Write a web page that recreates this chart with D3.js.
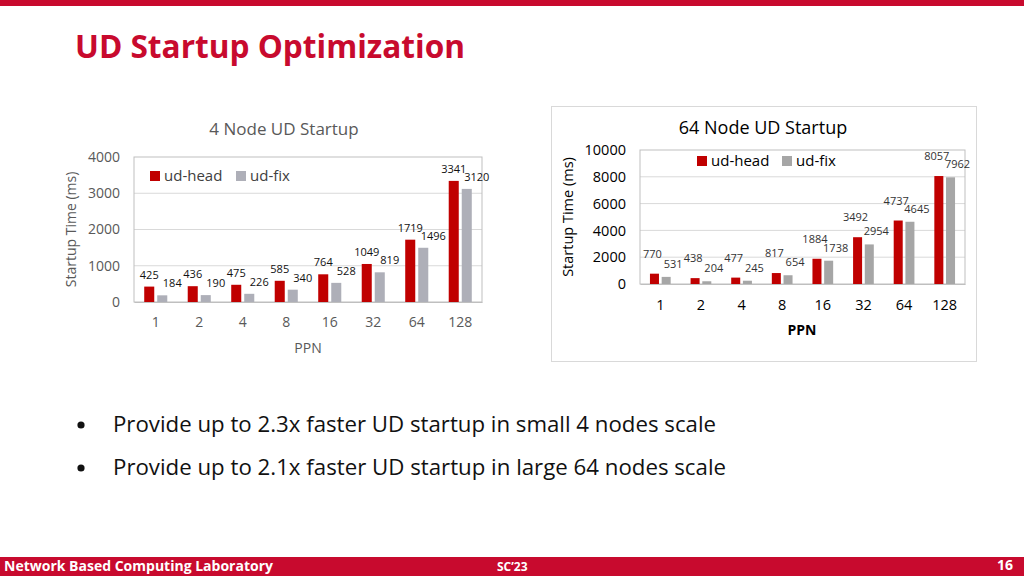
<!DOCTYPE html>
<html>
<head>
<meta charset="utf-8">
<script src="https://cdn.jsdelivr.net/npm/d3@7/dist/d3.min.js"></script>
<style>
  html, body { margin: 0; padding: 0; background: #fff; }
  svg { display: block; }
  text { font-family: "Open Sans", Lato, "DejaVu Sans", sans-serif; }
</style>
</head>
<body>
<svg id="slide" width="1024" height="576"></svg>
<script>
// ---------- data ----------
const ppn = ["1", "2", "4", "8", "16", "32", "64", "128"];
const seriesNames = ["ud-head", "ud-fix"];
const node4Head = [425, 436, 475, 585, 764, 1049, 1719, 3341];
const node4Fix  = [184, 190, 226, 340, 528, 819, 1496, 3120];
const node64Head = [770, 438, 477, 817, 1884, 3492, 4737, 8057];
const node64Fix  = [531, 204, 245, 654, 1738, 2954, 4645, 7962];
const node4Ticks = [0, 1000, 2000, 3000, 4000];
const node64Ticks = [0, 2000, 4000, 6000, 8000, 10000];
const bullets = [
  "Provide up to 2.3x faster UD startup in small 4 nodes scale",
  "Provide up to 2.1x faster UD startup in large 64 nodes scale"
];

const RED = "#C00000";
const BRAND = "#C80A2E";
const svg = d3.select("#slide");

// ---------- slide frame ----------
svg.append("rect").attr("x", 0).attr("y", 0).attr("width", 1024).attr("height", 6).attr("fill", BRAND);
svg.append("text").attr("x", 75).attr("y", 58).attr("font-size", 32).attr("font-weight", 700)
  .attr("fill", BRAND).attr("textLength", 390).attr("lengthAdjust", "spacingAndGlyphs")
  .text("UD Startup Optimization");

svg.append("rect").attr("x", 0).attr("y", 557).attr("width", 1024).attr("height", 19).attr("fill", BRAND);
svg.append("text").attr("x", 4).attr("y", 571).attr("font-size", 14).attr("font-weight", 700)
  .attr("fill", "#fff").attr("textLength", 269).attr("lengthAdjust", "spacingAndGlyphs")
  .text("Network Based Computing Laboratory");
svg.append("text").attr("x", 497).attr("y", 571).attr("font-size", 12).attr("font-weight", 700)
  .attr("fill", "#fff").text("SC\u201923");
svg.append("text").attr("x", 1013).attr("y", 570).attr("font-size", 14).attr("font-weight", 700)
  .attr("fill", "#fff").attr("text-anchor", "end").text("16");

// bullets
const bulletY = d3.scaleBand().domain(d3.range(bullets.length)).range([410, 496]);
bullets.forEach((b, i) => {
  const y = bulletY(i) + 22;
  svg.append("circle").attr("cx", 81).attr("cy", y - 7).attr("r", 3.6).attr("fill", "#111");
  svg.append("text").attr("x", 113).attr("y", y).attr("font-size", 21).attr("fill", "#111")
    .attr("textLength", i === 0 ? 603 : 613).attr("lengthAdjust", "spacingAndGlyphs").text(b);
});

// ---------- chart helper ----------
function drawChart(cfg) {
  const g = svg.append("g");
  const x = d3.scaleBand().domain(ppn).range([cfg.left, cfg.right]).paddingInner(cfg.pad).paddingOuter(cfg.pad / 2);
  const xi = d3.scaleBand().domain(seriesNames).range([0, x.bandwidth()]).paddingInner(0.23);
  const y = d3.scaleLinear().domain([0, cfg.ticks[cfg.ticks.length - 1]]).range([cfg.bottom, cfg.top]);

  // gridlines
  g.append("g").selectAll("line").data(cfg.ticks.slice(1, -1)).join("line")
    .attr("x1", cfg.left).attr("x2", cfg.right)
    .attr("y1", d => y(d)).attr("y2", d => y(d))
    .attr("stroke", "#D9D9D9").attr("stroke-width", 1);

  // plot box
  g.append("rect").attr("x", cfg.left).attr("y", cfg.top)
    .attr("width", cfg.right - cfg.left).attr("height", cfg.bottom - cfg.top)
    .attr("fill", "none").attr("stroke", "#BFBFBF").attr("stroke-width", 1);

  // y axis
  const ya = g.append("g").attr("transform", `translate(${cfg.left},0)`)
    .call(d3.axisLeft(y).tickValues(cfg.ticks).tickSize(0).tickPadding(cfg.yPad).tickFormat(d3.format("d")));
  ya.select(".domain").remove();
  ya.selectAll("text").attr("font-size", cfg.tickSize).attr("fill", cfg.textColor)
    .attr("font-family", "\"Open Sans\", sans-serif");

  // x axis
  const xa = g.append("g").attr("transform", `translate(0,${cfg.bottom})`)
    .call(d3.axisBottom(x).tickSize(0).tickPadding(cfg.xPad));
  xa.select(".domain").attr("stroke", "#BFBFBF");
  xa.selectAll("text").attr("font-size", cfg.tickSize).attr("fill", cfg.textColor)
    .attr("font-family", "\"Open Sans\", sans-serif");

  // bars
  const series = [
    { name: seriesNames[0], vals: cfg.head, color: RED, dx: cfg.headDx, dy: cfg.headDy },
    { name: seriesNames[1], vals: cfg.fix, color: cfg.gray, dx: cfg.fixDx, dy: cfg.fixDy }
  ];
  series.forEach(s => {
    g.append("g").selectAll("rect").data(s.vals).join("rect")
      .attr("x", (d, i) => x(ppn[i]) + xi(s.name))
      .attr("y", d => y(d))
      .attr("width", xi.bandwidth())
      .attr("height", d => cfg.bottom - y(d))
      .attr("fill", s.color);
    g.append("g").selectAll("text").data(s.vals).join("text")
      .attr("x", (d, i) => x(ppn[i]) + xi(s.name) + xi.bandwidth() / 2 + s.dx)
      .attr("y", d => y(d) + s.dy)
      .attr("text-anchor", "middle")
      .attr("font-size", 11).attr("fill", cfg.labelColor)
      .text(d => d);
  });

  // titles
  g.append("text").attr("x", cfg.titleX).attr("y", cfg.titleY).attr("text-anchor", "middle")
    .attr("font-size", cfg.titleSize).attr("fill", cfg.textColor).text(cfg.title);
  g.append("text").attr("transform", `translate(${cfg.yTitleX},${(cfg.top + cfg.bottom) / 2}) rotate(-90)`)
    .attr("text-anchor", "middle").attr("font-size", cfg.yTitleSize).attr("fill", cfg.textColor)
    .text("Startup Time (ms)");
  g.append("text").attr("x", cfg.xTitleX).attr("y", cfg.xTitleY).attr("text-anchor", "middle")
    .attr("font-size", cfg.xTitleSize).attr("font-weight", cfg.xTitleWeight).attr("fill", cfg.textColor)
    .text("PPN");

  // legend
  const colors = [RED, cfg.gray];
  seriesNames.forEach((n, i) => {
    const lx = cfg.legendX[i];
    g.append("rect").attr("x", lx).attr("y", cfg.legendY - 10).attr("width", 10).attr("height", 10).attr("fill", colors[i]);
    g.append("text").attr("x", lx + 14).attr("y", cfg.legendY).attr("font-size", 15)
      .attr("fill", cfg.legendColor).text(n);
  });
}

// 4 node chart
drawChart({
  left: 134, right: 482, top: 157, bottom: 302, pad: 0.47,
  ticks: node4Ticks, head: node4Head, fix: node4Fix,
  gray: "#AEAFB8", textColor: "#595959", labelColor: "#111", legendColor: "#404040",
  tickSize: 14, yPad: 14, xPad: 15,
  headDx: 0, headDy: -8, fixDx: 10, fixDy: -8,
  title: "4 Node UD Startup", titleX: 284, titleY: 135, titleSize: 17,
  yTitleX: 76, yTitleSize: 14,
  xTitleX: 308, xTitleY: 353, xTitleSize: 14, xTitleWeight: 400,
  legendX: [150, 236], legendY: 181
});

// 64 node chart frame
svg.append("rect").attr("x", 551.5).attr("y", 106.5).attr("width", 425).attr("height", 255)
  .attr("fill", "none").attr("stroke", "#D9D9D9");

drawChart({
  left: 640, right: 965, top: 150, bottom: 284, pad: 0.49,
  ticks: node64Ticks, head: node64Head, fix: node64Fix,
  gray: "#A6A6A6", textColor: "#000", labelColor: "#333", legendColor: "#000",
  tickSize: 14.5, yPad: 14, xPad: 16,
  headDx: -2, headDy: -16, fixDx: 7, fixDy: -9,
  title: "64 Node UD Startup", titleX: 763, titleY: 134, titleSize: 18,
  yTitleX: 573, yTitleSize: 14.5,
  xTitleX: 802, xTitleY: 335, xTitleSize: 14, xTitleWeight: 700,
  legendX: [697, 782], legendY: 166
});
</script>
</body>
</html>
